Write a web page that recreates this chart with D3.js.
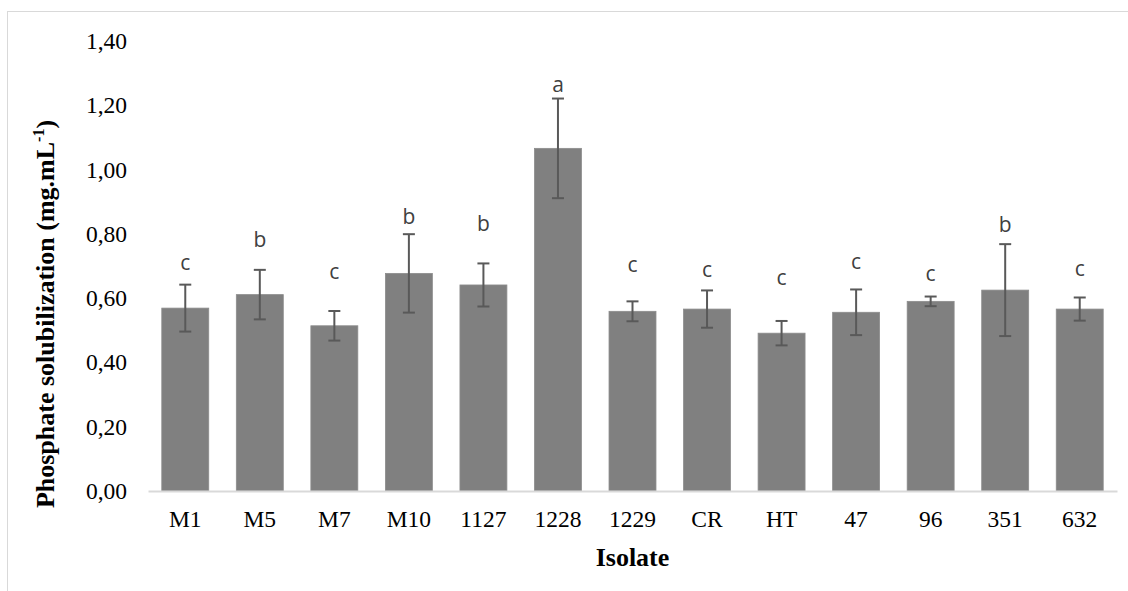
<!DOCTYPE html>
<html lang="en">
<head>
  <meta charset="UTF-8">
  <title>Phosphate solubilization by isolate</title>
  <script src="https://d3js.org/d3.v7.min.js"></script>
  <style>
    body {
      margin: 0;
      background: #fff;
    }
    .tick-label {
      font-family: "Liberation Serif", "Times New Roman", serif;
      font-size: 23.5px;
      fill: #000;
    }
    .axis-title {
      font-family: "Liberation Serif", "Times New Roman", serif;
      font-size: 26px;
      font-weight: bold;
      fill: #000;
    }
    .letter {
      font-family: "Open Sans", sans-serif;
      font-size: 21px;
      fill: #404040;
    }
  </style>
</head>
<body>
  <svg width="1128" height="591"></svg>

  <script>
    const isolates = ["M1", "M5", "M7", "M10", "1127", "1228", "1229", "CR", "HT", "47", "96", "351", "632"];
    const means    = [0.569, 0.611, 0.514, 0.677, 0.641, 1.066, 0.559, 0.566, 0.491, 0.556, 0.590, 0.625, 0.566];
    const errors   = [0.073, 0.077, 0.046, 0.122, 0.067, 0.155, 0.031, 0.058, 0.038, 0.071, 0.015, 0.143, 0.036];
    const letters  = ["c", "b", "c", "b", "b", "a", "c", "c", "c", "c", "c", "b", "c"];
    // height (in data units) where each significance letter sits
    const letterAt = [0.709, 0.781, 0.682, 0.853, 0.831, 1.263, 0.703, 0.690, 0.664, 0.713, 0.675, 0.828, 0.693];
    const yTicks   = [0, 0.2, 0.4, 0.6, 0.8, 1.0, 1.2, 1.4];

    const data = isolates.map((name, i) => ({
      name, mean: means[i], err: errors[i], letter: letters[i], letterAt: letterAt[i]
    }));

    const svg = d3.select("svg");
    const plot = {left: 148, right: 1117, top: 41, bottom: 491};

    // light outer frame like the exported chart area
    svg.append("rect")
      .attr("x", 7.5).attr("y", 11.5)
      .attr("width", 1140).attr("height", 600)
      .attr("fill", "none")
      .attr("stroke", "#d9d9d9");

    const x = d3.scaleBand()
      .domain(isolates)
      .range([plot.left, plot.right])
      .paddingInner(0.37)
      .paddingOuter(0.185);

    const y = d3.scaleLinear().domain([0, 1.4]).range([plot.bottom, plot.top]);

    const comma = d3.formatLocale({decimal: ",", thousands: ".", grouping: [3], currency: ["", ""]});
    const fmt = comma.format(".2f");

    // y axis: labels only
    const yAxis = svg.append("g")
      .attr("transform", `translate(${plot.left},0)`)
      .call(d3.axisLeft(y).tickValues(yTicks).tickFormat(fmt).tickSize(0).tickPadding(21));
    yAxis.select(".domain").remove();
    yAxis.selectAll("text").attr("class", "tick-label").attr("font-family", null).attr("font-size", null);

    // bars
    svg.append("g").selectAll("rect")
      .data(data)
      .enter()
      .append("rect")
      .attr("x", d => x(d.name))
      .attr("y", d => y(d.mean))
      .attr("width", x.bandwidth())
      .attr("height", d => y(0) - y(d.mean))
      .attr("fill", "#808080")
      .attr("stroke", "#8c8c8c")
      .attr("stroke-width", 0.8);

    // x axis baseline + labels
    const xAxis = svg.append("g")
      .attr("transform", `translate(0,${plot.bottom})`)
      .call(d3.axisBottom(x).tickSize(0).tickPadding(19));
    xAxis.select(".domain").attr("stroke", "#d9d9d9").attr("stroke-width", 2);
    xAxis.selectAll("text").attr("class", "tick-label").attr("font-family", null).attr("font-size", null);

    // error bars
    const cap = 6;
    const eb = svg.append("g").attr("stroke", "#595959").attr("stroke-width", 2);
    data.forEach(d => {
      const cx = x(d.name) + x.bandwidth() / 2;
      eb.append("line").attr("x1", cx).attr("x2", cx)
        .attr("y1", y(d.mean + d.err)).attr("y2", y(d.mean - d.err));
      eb.append("line").attr("x1", cx - cap).attr("x2", cx + cap)
        .attr("y1", y(d.mean + d.err)).attr("y2", y(d.mean + d.err));
      eb.append("line").attr("x1", cx - cap).attr("x2", cx + cap)
        .attr("y1", y(d.mean - d.err)).attr("y2", y(d.mean - d.err));
    });

    // significance letters
    svg.append("g").selectAll("text")
      .data(data)
      .enter()
      .append("text")
      .attr("class", "letter")
      .attr("x", d => x(d.name) + x.bandwidth() / 2)
      .attr("y", d => y(d.letterAt))
      .attr("dy", "0.35em")
      .attr("text-anchor", "middle")
      .text(d => d.letter);

    // axis titles
    svg.append("text")
      .attr("class", "axis-title")
      .attr("x", (plot.left + plot.right) / 2)
      .attr("y", 566)
      .attr("text-anchor", "middle")
      .text("Isolate");

    const yt = svg.append("text")
      .attr("class", "axis-title")
      .attr("transform", "translate(54,314) rotate(-90)")
      .attr("text-anchor", "middle");
    yt.append("tspan").text("Phosphate solubilization (mg.mL");
    yt.append("tspan").attr("font-size", "16px").attr("dy", "-10").text("-1");
    yt.append("tspan").attr("dy", "10").text(")");
  </script>
</body>
</html>
